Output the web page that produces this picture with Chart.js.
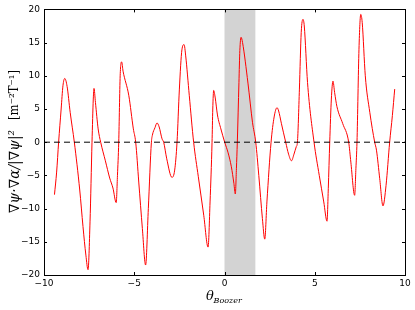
<!DOCTYPE html>
<html>
<head>
<meta charset="utf-8">
<script src="https://cdn.jsdelivr.net/npm/chart.js@4.4.1/dist/chart.umd.min.js"></script>
<style>
  html, body { margin: 0; padding: 0; background: #fff; }
  #wrap { width: 415px; height: 310px; position: relative; }
</style>
</head>
<body>
<div id="wrap"><canvas id="myChart"></canvas></div>
<script>
// theta_Boozer samples and the curve values
const theta = [
  -9.42, -9.3, -9.19, -9.05, -8.95, -8.85, -8.72, -8.55, -8.32, -8.02, -7.84, -7.68, -7.56, -7.45, -7.34,
  -7.27, -7.23, -7.15, -7.0, -6.86, -6.6, -6.36, -6.18, -6.0, -5.93, -5.86, -5.78, -5.70, -5.62, -5.3,
  -5.05, -4.92, -4.75, -4.55, -4.37, -4.22, -4.05, -4.0, -3.85, -3.74, -3.62, -3.46, -3.37, -3.2, -2.91,
  -2.76, -2.63, -2.5, -2.36, -2.24, -2.15, -1.95, -1.71, -1.45, -1.15, -0.91, -0.80, -0.69, -0.65, -0.60,
  -0.52, -0.39, -0.2, 0.01, 0.2, 0.38, 0.52, 0.60, 0.66, 0.71, 0.80, 0.85, 0.92, 1.0, 1.3,
  1.55, 1.73, 1.9, 2.1, 2.23, 2.35, 2.58, 2.75, 2.91, 3.0, 3.15, 3.39, 3.55, 3.71, 3.85,
  3.98, 4.04, 4.15, 4.25, 4.35, 4.42, 4.6, 4.96, 5.25, 5.5, 5.68, 5.75, 5.83, 5.92, 6.01,
  6.1, 6.23, 6.55, 6.88, 7.0, 7.21, 7.28, 7.34, 7.45, 7.55, 7.63, 7.8, 8.05, 8.32, 8.42,
  8.6, 8.78, 8.95, 9.15, 9.3, 9.43
];
const gradPsiAlpha = [
  -7.9, -4.5, 0, 5.0, 8.5, 9.6, 8.4, 4.5, 0, -7.2, -12.7, -17.0, -19.2, -12, 0,
  6.5, 8.1, 6.0, 2.0, 0, -2.8, -5.4, -6.9, -9.1, -5.0, 0, 10.0, 12.1, 10.7, 7.0,
  2.0, 0, -6, -13, -18.5, -10, 0, 1.0, 2.2, 2.9, 2.3, 0.5, 0, -2.5, -5.3,
  -4.2, 0, 8, 13.9, 14.7, 13.0, 7, 0, -5.2, -11.0, -15.8, -9, 0, 5.0, 7.8,
  6.8, 4.1, 2.0, 0, -1.6, -3.7, -6.2, -7.8, -4, 0, 9, 13.8, 15.8, 15.0, 8.9,
  3, 0, -5, -11.5, -14.6, -9, 0, 3.8, 5.2, 4.7, 2.85, 0, -1.8, -2.8, -1.8,
  -0.65, 0, 8, 16.5, 18.5, 17.5, 9, 0, -5, -9, -11.9, -7, 0, 6.5, 9.2,
  7.5, 5.35, 2.8, 0, -3, -8.0, -4, 0, 14, 19.25, 18, 10, 4.5, 0, -1.2,
  -5.5, -9.6, -6.5, 0, 4, 8.0
];
const xTicks = [-10, -5, 0, 5, 10];
const yTicks = [-20, -15, -10, -5, 0, 5, 10, 15, 20];
const shadedSpan = [0, 1.71];
const zeroLine = [-10, 10];

const minus = v => String(v).replace('-', '\u2212');

// grey band, inward ticks on all four sides, frame and axis labels
const decorPlugin = {
  id: 'decor',
  beforeDatasetsDraw(chart) {
    const { ctx, chartArea: a, scales: { x } } = chart;
    ctx.save();
    ctx.fillStyle = '#d3d3d3';
    const x0 = x.getPixelForValue(shadedSpan[0]);
    const x1 = x.getPixelForValue(shadedSpan[1]);
    ctx.fillRect(x0, a.top, x1 - x0, a.bottom - a.top);
    ctx.restore();
  },
  afterDraw(chart) {
    const { ctx, chartArea: a, scales: { x, y } } = chart;
    ctx.save();
    ctx.strokeStyle = '#000';
    ctx.lineWidth = 1;
    ctx.beginPath();
    xTicks.forEach(v => {
      const px = Math.round(x.getPixelForValue(v)) + 0.5;
      ctx.moveTo(px, a.bottom); ctx.lineTo(px, a.bottom - 3);
      ctx.moveTo(px, a.top); ctx.lineTo(px, a.top + 3);
    });
    yTicks.forEach(v => {
      const py = Math.round(y.getPixelForValue(v)) + 0.5;
      ctx.moveTo(a.left, py); ctx.lineTo(a.left + 3, py);
      ctx.moveTo(a.right, py); ctx.lineTo(a.right - 3, py);
    });
    ctx.stroke();
    ctx.strokeRect(Math.round(a.left) + 0.5, Math.round(a.top) + 0.5,
      Math.round(a.right - a.left), Math.round(a.bottom - a.top));

    // y label
    ctx.fillStyle = '#000';
    ctx.save();
    ctx.translate(15, 0);
    ctx.rotate(-Math.PI / 2);
    ctx.textBaseline = 'middle';
    ctx.textAlign = 'center';
    ctx.font = 'italic 14px "DejaVu Serif"';
    ctx.fillText('\u2207\u03c8\u00b7\u2207\u03b1/|\u2207\u03c8|\u00b2', -171.5, 0, 83);
    ctx.font = '12px "DejaVu Serif"';
    ctx.fillText('[m\u207b\u00b2T\u207b\u00b9]', -95, 0, 50);
    ctx.restore();

    // x label: theta with subscript Boozer
    ctx.textBaseline = 'alphabetic';
    ctx.textAlign = 'left';
    ctx.font = 'italic 13px "DejaVu Serif"';
    ctx.fillText('\u03b8', 206, 300);
    ctx.font = 'italic 8px "DejaVu Serif"';
    ctx.fillText('Boozer', 213.5, 303, 30);
    ctx.restore();
  }
};

new Chart(document.getElementById('myChart'), {
  type: 'line',
  data: {
    datasets: [
      {
        label: 'zero',
        data: zeroLine.map(v => ({ x: v, y: 0 })),
        borderColor: '#000',
        borderWidth: 1,
        borderDash: [6, 4],
        pointRadius: 0
      },
      {
        label: 'grad psi . grad alpha',
        data: theta.map((t, i) => ({ x: t, y: gradPsiAlpha[i] })),
        borderColor: '#ff0000',
        borderWidth: 1,
        pointRadius: 0,
        fill: false,
        cubicInterpolationMode: 'monotone'
      }
    ]
  },
  options: {
    responsive: true,
    maintainAspectRatio: false,
    animation: false,
    layout: { padding: { top: 9, right: 10, left: 0, bottom: 0 } },
    plugins: { legend: { display: false }, tooltip: { enabled: false } },
    scales: {
      x: {
        type: 'linear',
        min: -10, max: 10,
        afterFit: s => { s.height = 35; },
        afterBuildTicks: s => { s.ticks = xTicks.map(v => ({ value: v })); },
        grid: { display: false, drawTicks: false },
        border: { display: false },
        ticks: {
          padding: 3, color: '#000', maxRotation: 0,
          font: { family: 'DejaVu Sans', size: 9 },
          callback: v => minus(v)
        }
      },
      y: {
        min: -20, max: 20,
        afterFit: s => { s.width = 44; },
        afterBuildTicks: s => { s.ticks = yTicks.map(v => ({ value: v })); },
        grid: { display: false, drawTicks: false },
        border: { display: false },
        ticks: {
          padding: 4, color: '#000',
          font: { family: 'DejaVu Sans', size: 9 },
          callback: v => minus(v)
        }
      }
    }
  },
  plugins: [decorPlugin]
});
</script>
</body>
</html>
